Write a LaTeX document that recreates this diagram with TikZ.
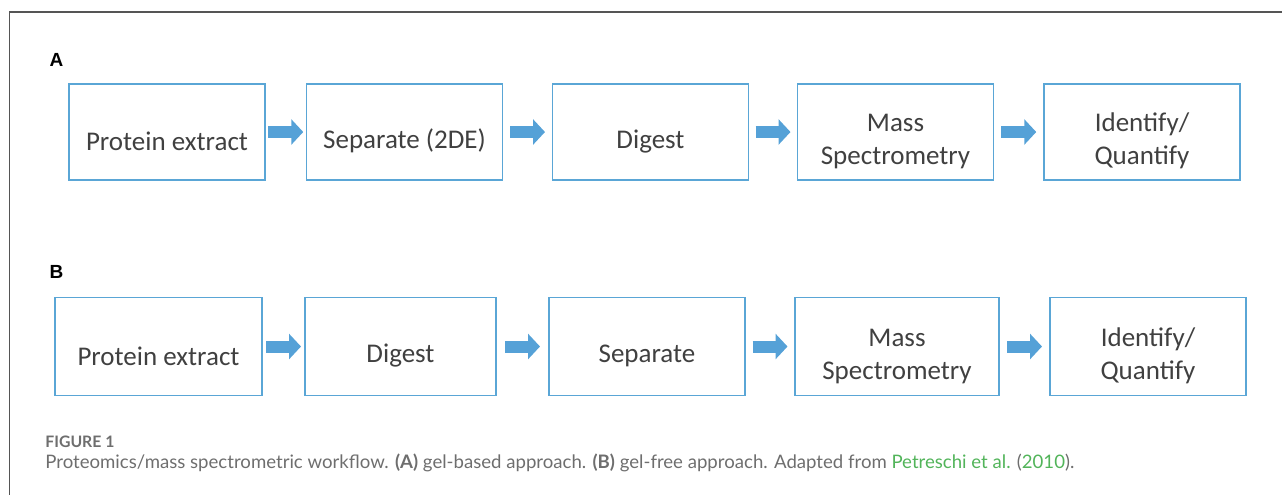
\documentclass[tikz,border=0pt]{standalone}
\usepackage{fontspec}
\setmainfont{Carlito}
\newfontfamily\capfont{Lato}
\newfontfamily\tagfont{Liberation Sans}
\usetikzlibrary{arrows.meta, calc}
\definecolor{boxblue}{HTML}{5AA6D6}
\definecolor{arrowblue}{HTML}{55A1D7}
\definecolor{boxtext}{HTML}{404040}
\definecolor{capgray}{HTML}{6E6E6E}
\definecolor{refgreen}{HTML}{52B45A}
\definecolor{framegray}{HTML}{555555}

\begin{document}
\begin{tikzpicture}[x=0.5pt, y=-0.5pt,
  stepbox/.style={draw=boxblue, line width=0.75pt, minimum width=98pt, minimum height=48pt,
    inner sep=0pt, align=center, text=boxtext, font=\fontsize{13.5}{16.5}\selectfont, text height=18.6pt},
  twoline/.style={text height=35.1pt},
  flow/.style={draw=arrowblue, line width=6pt, -{Triangle[length=6pt, width=12.5pt]},
    to path={([xshift=-8.75pt]$(\tikztostart.east)!.5!(\tikztotarget.west)$)
      -- ([xshift=8.75pt]$(\tikztostart.east)!.5!(\tikztotarget.west)$)}},
  tag/.style={font=\tagfont\bfseries\fontsize{9.5}{9.5}\selectfont, inner sep=0pt}]
  \useasboundingbox (0,0) rectangle (1282,495);
  \draw[framegray, line width=0.75pt] (1282,12) -- (9.5,12) -- (9.5,495);

  \node[tag] (tagA) at (56.5,59.5) {A};
  \node[stepbox] (a1) at (167,132) {Protein extract};
  \node[stepbox] (a2) at (404.5,132) {Separate (2DE)};
  \node[stepbox] (a3) at (650.5,132) {Digest};
  \node[stepbox, twoline] (a4) at (895.5,132) {Mass\\Spectrometry};
  \node[stepbox, twoline] (a5) at (1142,132) {Identify/\\Quantify};
  \draw[flow] (a1) to (a2);
  \draw[flow] (a2) to (a3);
  \draw[flow] (a3) to (a4);
  \draw[flow] (a4) to (a5);

  \node[tag] (tagB) at (56.5,271.5) {B};
  \node[stepbox, minimum width=103.5pt, minimum height=49pt] (b1) at (158.5,346.5) {Protein extract};
  \node[stepbox, minimum width=95.5pt, minimum height=49pt] (b2) at (400.5,346.5) {Digest};
  \node[stepbox, minimum height=49pt] (b3) at (647,346.5) {Separate};
  \node[stepbox, twoline, minimum width=102pt, minimum height=49pt] (b4) at (897,346.5) {Mass\\Spectrometry};
  \node[stepbox, twoline, minimum height=49pt] (b5) at (1148,346.5) {Identify/\\Quantify};
  \draw[flow] (b1) to (b2);
  \draw[flow] (b2) to (b3);
  \draw[flow] (b3) to (b4);
  \draw[flow] (b4) to (b5);

  \node[anchor=west, inner sep=0pt, text=capgray, font=\capfont\bfseries\fontsize{7.9}{9}\selectfont] (figno) at (45,442) {FIGURE 1};
  \node[anchor=west, inner sep=0pt, text=capgray, font=\capfont\fontsize{9.3}{11}\selectfont] (caption) at (45,463)
    {Proteomics/mass spectrometric workflow. {\bfseries (A)} gel-based approach. {\bfseries (B)} gel-free approach. Adapted from \textcolor{refgreen}{Petreschi et al.} (\textcolor{refgreen}{2010}).};
\end{tikzpicture}
\end{document}
